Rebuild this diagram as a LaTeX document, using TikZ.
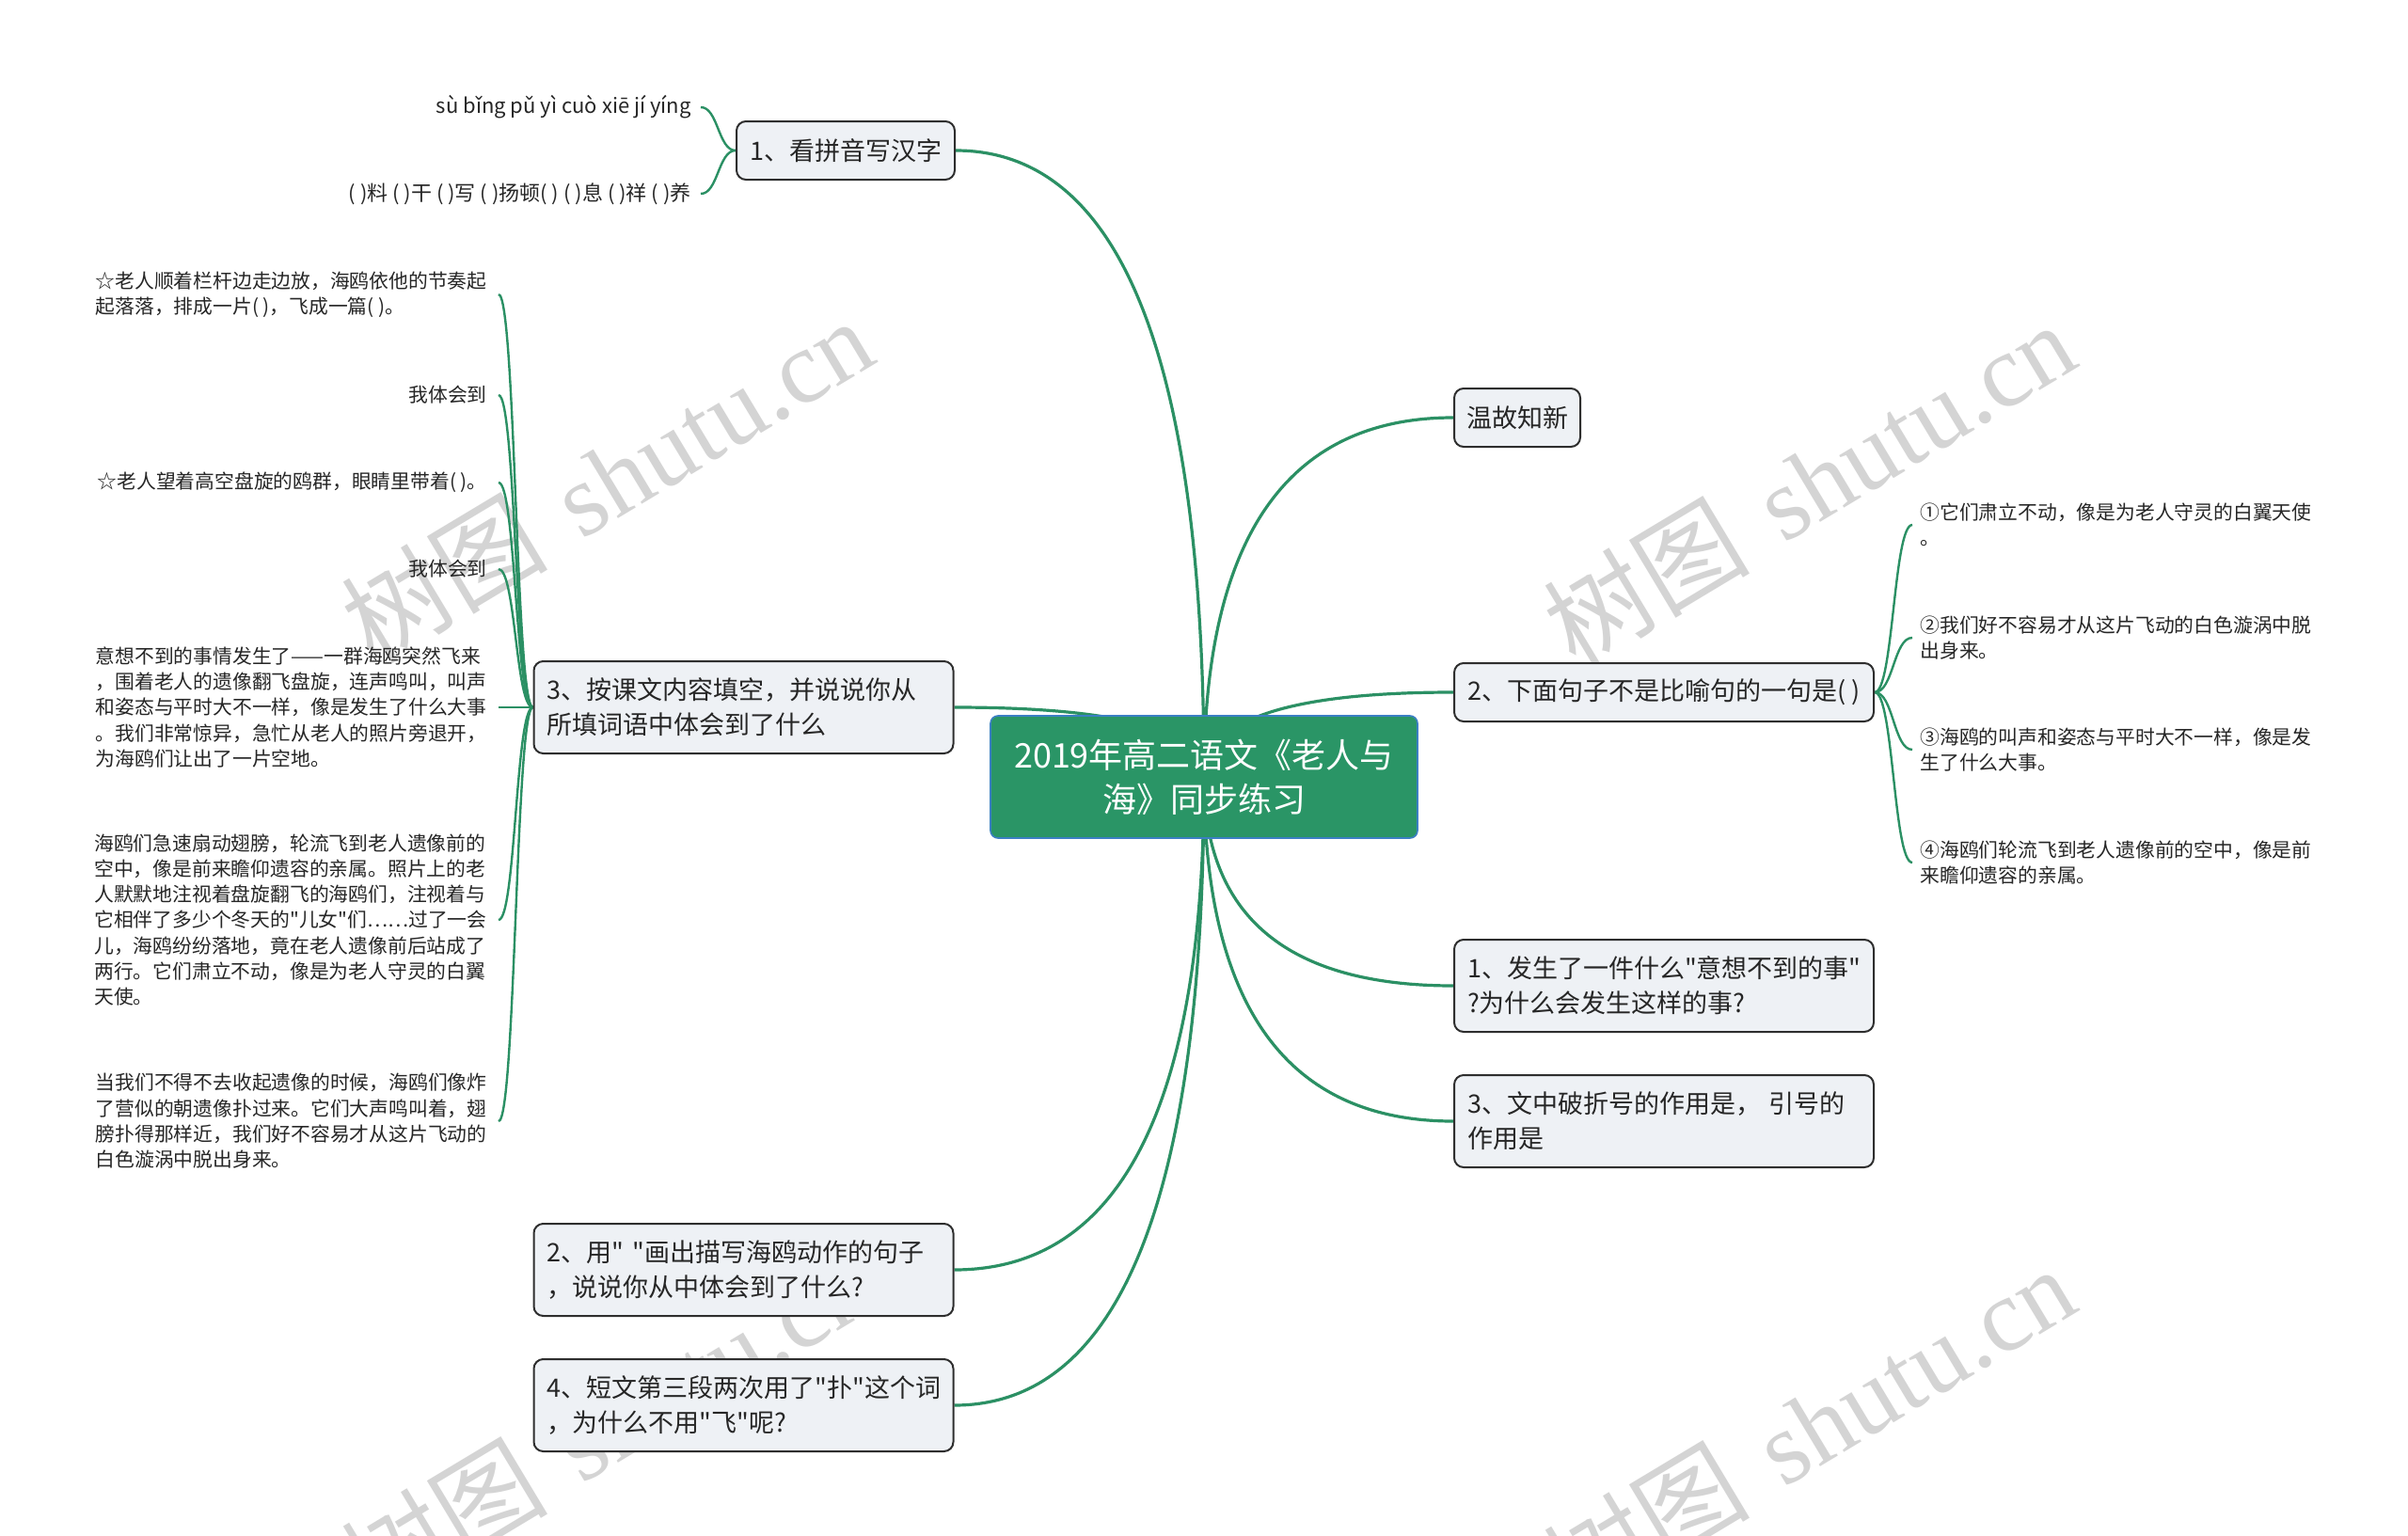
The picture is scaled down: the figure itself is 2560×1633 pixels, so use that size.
\documentclass[tikz,border=0pt]{standalone}
\usepackage{fontspec}
\setmainfont{Noto Sans CJK SC}[Ligatures=TeXOff]
\newfontfamily\wmserif{Liberation Serif}
\usetikzlibrary{calc}
\definecolor{lineg}{HTML}{2B9064}
\definecolor{cfill}{HTML}{2A9566}
\definecolor{cborder}{HTML}{3B7FC4}
\definecolor{bfill}{HTML}{EEF1F5}
\definecolor{bline}{HTML}{2E2E2E}
\definecolor{txt}{HTML}{262626}
\definecolor{wm}{HTML}{D4D4D4}
\pgfdeclarelayer{wmlayer}
\pgfdeclarelayer{bg}
\pgfsetlayers{wmlayer,bg,main}
\begin{document}
\begin{tikzpicture}[x=0.5pt,y=-0.5pt,
  box/.style={draw=bline, fill=bfill, line width=1pt, rounded corners=5pt, inner xsep=7pt, inner ysep=0pt, text=txt, font=\fontsize{13.5pt}{18.5pt}\selectfont},
  widebox/.style={box, minimum width=223pt, minimum height=49pt, text width=209pt, align=left},
  central/.style={draw=cborder, fill=cfill, line width=0.8pt, rounded corners=4pt, text=white, align=center, font=\fontsize{18pt}{23.5pt}\selectfont, minimum width=227pt, minimum height=65pt, inner sep=0pt},
  leaf/.style={inner ysep=0pt, text=txt, align=left, font=\fontsize{10.4pt}{13.65pt}\selectfont},
  pleaf/.style={leaf, font=\fontsize{11pt}{13.65pt}\selectfont},
  mline/.style={to path={.. controls ($(\tikztostart)!2/3!(\tikztostart |- \tikztotarget)$) and ($(\tikztotarget)!2/3!(\tikztostart |- \tikztotarget)$) .. (\tikztotarget)}},
  sline/.style={to path={.. controls ($(\tikztostart)!0.5!(\tikztostart -| \tikztotarget)$) and ($(\tikztotarget)!0.5!(\tikztotarget -| \tikztostart)$) .. (\tikztotarget)}},
  mainconn/.style={draw=lineg, line width=1.6pt},
  leafconn/.style={draw=lineg, line width=1.2pt},
  wmark/.style={text=wm, rotate=31, inner sep=0pt, font=\fontsize{55pt}{55pt}\selectfont}
]
\useasboundingbox (0,0) rectangle (2560,1633);

% central topic
\node[central] (c) at (1280,826) {2019年高二语文《老人与\\海》同步练习};

% left main topics
\node[box, minimum width=115pt, minimum height=31pt] (k1) at (899,160) {1、看拼音写汉字};
\node[widebox] (k3) at (790.5,752) {3、按课文内容填空，并说说你从\\所填词语中体会到了什么};
\node[widebox] (k2) at (790.5,1350) {2、用"~"画出描写海鸥动作的句子\\，说说你从中体会到了什么?};
\node[widebox] (k4) at (790.5,1494) {4、短文第三段两次用了"扑"这个词\\，为什么不用"飞"呢?};

% right main topics
\node[box, minimum width=67pt, minimum height=31pt, inner xsep=4pt] (wg) at (1613,444) {温故知新};
\node[box, minimum width=223pt, minimum height=31pt] (r2) at (1769,736) {2、下面句子不是比喻句的一句是( )};
\node[widebox] (r1) at (1769,1048) {1、发生了一件什么"意想不到的事"\\?为什么会发生这样的事?};
\node[widebox] (r3) at (1769,1192) {3、文中破折号的作用是，~引号的\\作用是};

% leaves of k1
\node[pleaf, anchor=east, inner xsep=5pt] (pa) at (745,114) {sù bǐng pǔ yì cuò xiē jí yíng};
\node[pleaf, anchor=east, inner xsep=5pt] (pb) at (745,206) {( )料 ( )干 ( )写 ( )扬顿( ) ( )息 ( )祥 ( )养};

% leaves of k3
\node[leaf, anchor=east, inner xsep=6pt] (la) at (530,313) {☆老人顺着栏杆边走边放，海鸥依他的节奏起\\起落落，排成一片( )，飞成一篇( )。};
\node[leaf, anchor=east, inner xsep=6pt] (lb) at (530,420) {我体会到};
\node[leaf, anchor=east, inner xsep=6pt] (lc) at (530,513) {☆老人望着高空盘旋的鸥群，眼睛里带着( )。};
\node[leaf, anchor=east, inner xsep=6pt] (ld) at (530,605) {我体会到};
\node[leaf, anchor=east, inner xsep=6pt] (le) at (530,752) {意想不到的事情发生了——一群海鸥突然飞来\\，围着老人的遗像翻飞盘旋，连声鸣叫，叫声\\和姿态与平时大不一样，像是发生了什么大事\\。我们非常惊异，急忙从老人的照片旁退开，\\为海鸥们让出了一片空地。};
\node[leaf, anchor=east, inner xsep=6pt] (lf) at (530,978) {海鸥们急速扇动翅膀，轮流飞到老人遗像前的\\空中，像是前来瞻仰遗容的亲属。照片上的老\\人默默地注视着盘旋翻飞的海鸥们，注视着与\\它相伴了多少个冬天的"儿女"们……过了一会\\儿，海鸥纷纷落地，竟在老人遗像前后站成了\\两行。它们肃立不动，像是为老人守灵的白翼\\天使。};
\node[leaf, anchor=east, inner xsep=6pt] (lg) at (530,1192) {当我们不得不去收起遗像的时候，海鸥们像炸\\了营似的朝遗像扑过来。它们大声鸣叫着，翅\\膀扑得那样近，我们好不容易才从这片飞动的\\白色漩涡中脱出身来。};

% leaves of r2
\node[leaf, anchor=west, inner xsep=4pt] (ra) at (2033,558) {①它们肃立不动，像是为老人守灵的白翼天使\\。};
\node[leaf, anchor=west, inner xsep=4pt] (rb) at (2033,678) {②我们好不容易才从这片飞动的白色漩涡中脱\\出身来。};
\node[leaf, anchor=west, inner xsep=4pt] (rc) at (2033,797) {③海鸥的叫声和姿态与平时大不一样，像是发\\生了什么大事。};
\node[leaf, anchor=west, inner xsep=4pt] (rd) at (2033,917) {④海鸥们轮流飞到老人遗像前的空中，像是前\\来瞻仰遗容的亲属。};

\begin{pgfonlayer}{bg}
\draw[mainconn] (c.center) to[mline] (k1.east);
\draw[mainconn] (c.center) to[mline] (k3.east);
\draw[mainconn] (c.center) to[mline] (k2.east);
\draw[mainconn] (c.center) to[mline] (k4.east);
\draw[mainconn] (c.center) to[mline] (wg.west);
\draw[mainconn] (c.center) to[mline] (r2.west);
\draw[mainconn] (c.center) to[mline] (r1.west);
\draw[mainconn] (c.center) to[mline] (r3.west);
\draw[leafconn] (k1.west) to[sline] (pa.east);
\draw[leafconn] (k1.west) to[sline] (pb.east);
\draw[leafconn] (k3.west) to[sline] (la.east);
\draw[leafconn] (k3.west) to[sline] (lb.east);
\draw[leafconn] (k3.west) to[sline] (lc.east);
\draw[leafconn] (k3.west) to[sline] (ld.east);
\draw[leafconn] (k3.west) to[sline] (le.east);
\draw[leafconn] (k3.west) to[sline] (lf.east);
\draw[leafconn] (k3.west) to[sline] (lg.east);
\draw[leafconn] (r2.east) to[sline] (ra.west);
\draw[leafconn] (r2.east) to[sline] (rb.west);
\draw[leafconn] (r2.east) to[sline] (rc.west);
\draw[leafconn] (r2.east) to[sline] (rd.west);
\end{pgfonlayer}

\begin{pgfonlayer}{wmlayer}
\fill[white] (0,0) rectangle (2560,1633);
\begin{scope}
\clip (0,0) rectangle (2560,1633);
\node[wmark] (w1) at (645,510) {树图\hspace{0.35em}{\wmserif shutu.cn}};
\node[wmark] (w2) at (1923,514) {树图\hspace{0.35em}{\wmserif shutu.cn}};
\node[wmark] (w3) at (1923,1518) {树图\hspace{0.35em}{\wmserif shutu.cn}};
\node[wmark] (w4) at (645,1514) {树图\hspace{0.35em}{\wmserif shutu.cn}};
\end{scope}
\end{pgfonlayer}
\end{tikzpicture}
\end{document}
